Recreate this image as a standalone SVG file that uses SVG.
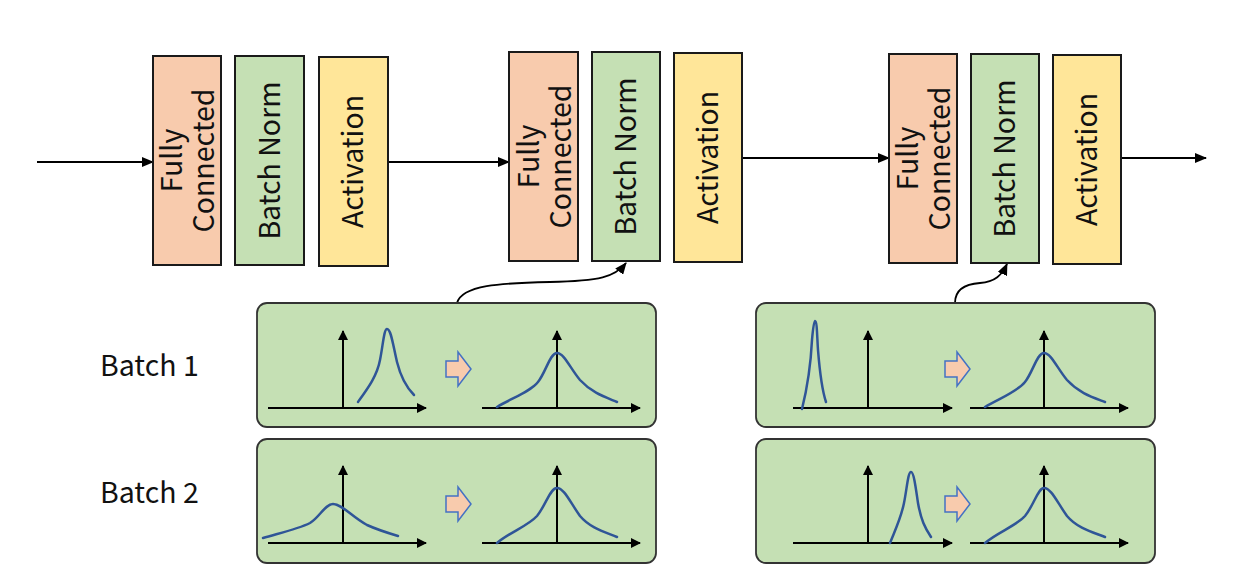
<svg xmlns="http://www.w3.org/2000/svg" width="1240" height="580" viewBox="0 0 1240 580">
<style>
.fc{fill:#f8cbad;stroke:#1a1a1a;stroke-width:2}
.bn{fill:#c5e0b4;stroke:#1a1a1a;stroke-width:2}
.ac{fill:#ffe699;stroke:#1a1a1a;stroke-width:2}
.lbl{font-family:"Noto Sans CJK JP","Noto Sans",sans-serif;font-size:28.5px;fill:#111;text-anchor:middle}
.bl{font-family:"Noto Sans CJK JP","Noto Sans",sans-serif;font-size:28.5px;fill:#111}
.panel{fill:#c5e0b4;stroke:#333;stroke-width:1.8}
.ax{stroke:#000;stroke-width:2;fill:none}
.cv{stroke:#2f5597;stroke-width:2.5;fill:none;stroke-linecap:round}
.pa{fill:#f8cbad;stroke:#4472c4;stroke-width:1.5}
.conn{stroke:#000;stroke-width:1.8;fill:none}
</style>
<defs>
<marker id="ah" markerUnits="userSpaceOnUse" markerWidth="12" markerHeight="10" refX="11" refY="5" orient="auto">
<path d="M0,0 L12,5 L0,10 Z" fill="#000"/>
</marker>
<marker id="axh" markerUnits="userSpaceOnUse" markerWidth="10" markerHeight="10" refX="9" refY="5" orient="auto">
<path d="M0,0 L10,5 L0,10 Z" fill="#000"/>
</marker>
</defs>

<g id="connectors">
<line class="conn" x1="37" y1="162" x2="153" y2="162" marker-end="url(#ah)"/>
<line class="conn" x1="388" y1="162" x2="509" y2="162" marker-end="url(#ah)"/>
<line class="conn" x1="742" y1="158" x2="889" y2="158" marker-end="url(#ah)"/>
<line class="conn" x1="1121" y1="158" x2="1206" y2="158" marker-end="url(#ah)"/>
<path class="conn" d="M457,303 C462,285 500,283 550,282 C600,281 615,277 626,263" marker-end="url(#ah)"/>
<path class="conn" d="M955,303 C955,290 965,284 980,283 C995,282 1002,275 1007,264" marker-end="url(#ah)"/>
</g>

<g id="block1">
<g id="fc1"><rect class="fc" x="153" y="56" width="68" height="209"/>
<g transform="translate(187,160.5) rotate(-90)"><text class="lbl" x="0" y="-5">Fully</text><text class="lbl" x="0" y="27">Connected</text></g></g>
<g id="bn1"><rect class="bn" x="235" y="56" width="69" height="209"/>
<text class="lbl" transform="translate(280,160.5) rotate(-90)">Batch Norm</text></g>
<g id="act1"><rect class="ac" x="319" y="57" width="69" height="209"/>
<text class="lbl" transform="translate(363,161.5) rotate(-90)">Activation</text></g>
</g>

<g id="block2">
<g id="fc2"><rect class="fc" x="509" y="52" width="69" height="209"/>
<g transform="translate(543.5,156.5) rotate(-90)"><text class="lbl" x="0" y="-5">Fully</text><text class="lbl" x="0" y="27">Connected</text></g></g>
<g id="bn2"><rect class="bn" x="592" y="52" width="68" height="209"/>
<text class="lbl" transform="translate(636,156.5) rotate(-90)">Batch Norm</text></g>
<g id="act2"><rect class="ac" x="674" y="53" width="68" height="209"/>
<text class="lbl" transform="translate(718,157.5) rotate(-90)">Activation</text></g>
</g>

<g id="block3">
<g id="fc3"><rect class="fc" x="889" y="54" width="68" height="209"/>
<g transform="translate(923,158.5) rotate(-90)"><text class="lbl" x="0" y="-5">Fully</text><text class="lbl" x="0" y="27">Connected</text></g></g>
<g id="bn3"><rect class="bn" x="971" y="54" width="68" height="209"/>
<text class="lbl" transform="translate(1015,158.5) rotate(-90)">Batch Norm</text></g>
<g id="act3"><rect class="ac" x="1053" y="55" width="68" height="209"/>
<text class="lbl" transform="translate(1097,159.5) rotate(-90)">Activation</text></g>
</g>

<text id="batch1" class="bl" x="100" y="376">Batch 1</text>
<text id="batch2" class="bl" x="100" y="503">Batch 2</text>

<g id="panel1">
<rect class="panel" x="257" y="303" width="399" height="124" rx="10"/>
<line class="ax" x1="268" y1="408" x2="426" y2="408" marker-end="url(#axh)"/>
<line class="ax" x1="343" y1="408" x2="343" y2="331" marker-end="url(#axh)"/>
<path class="cv" d="M358,402 C368,388 377,376 380,360 C383,345 384,329 387,329 C391,329 393,345 397,362 C401,378 406,387 414,395"/>
<path class="pa" d="M446,361 H458 V352 L471,369 L458,386 V377 H446 Z"/>
<line class="ax" x1="482" y1="408" x2="640" y2="408" marker-end="url(#axh)"/>
<line class="ax" x1="557" y1="408" x2="557" y2="331" marker-end="url(#axh)"/>
<path class="cv" d="M497,407 C512,398 530,392 538,382 C546,372 550,353 557,353 C564,353 570,368 580,380 C592,393 605,397 617,402"/>
</g>

<g id="panel2">
<rect class="panel" x="756" y="303" width="399" height="124" rx="10"/>
<line class="ax" x1="793" y1="408" x2="952" y2="408" marker-end="url(#axh)"/>
<line class="ax" x1="868" y1="408" x2="868" y2="331" marker-end="url(#axh)"/>
<path class="cv" d="M802,409 C808,385 811,360 812,340 C813,328 814,321 815,321 C817,321 817,335 818,350 C820,375 822,390 826,402"/>
<path class="pa" d="M945,361 H957 V352 L970,369 L957,386 V377 H945 Z"/>
<line class="ax" x1="970" y1="408" x2="1128" y2="408" marker-end="url(#axh)"/>
<line class="ax" x1="1044" y1="408" x2="1044" y2="331" marker-end="url(#axh)"/>
<path class="cv" d="M985,407 C1000,398 1017,392 1025,382 C1033,372 1037,353 1044,353 C1051,353 1057,368 1067,380 C1079,393 1092,397 1105,402"/>
</g>

<g id="panel3">
<rect class="panel" x="257" y="439" width="399" height="124" rx="10"/>
<line class="ax" x1="268" y1="543" x2="426" y2="543" marker-end="url(#axh)"/>
<line class="ax" x1="343" y1="543" x2="343" y2="466" marker-end="url(#axh)"/>
<path class="cv" d="M263,538 C280,533 298,529 310,523 C320,517 325,504 333,504 C342,504 352,517 367,525 C378,530 388,533 398,536"/>
<path class="pa" d="M446,496 H458 V487 L471,504 L458,521 V512 H446 Z"/>
<line class="ax" x1="482" y1="543" x2="640" y2="543" marker-end="url(#axh)"/>
<line class="ax" x1="557" y1="543" x2="557" y2="466" marker-end="url(#axh)"/>
<path class="cv" d="M497,543 C510,532 528,526 537,516 C546,505 550,488 557,488 C564,488 570,502 580,516 C590,528 605,532 617,537"/>
</g>

<g id="panel4">
<rect class="panel" x="756" y="439" width="399" height="124" rx="10"/>
<line class="ax" x1="793" y1="543" x2="952" y2="543" marker-end="url(#axh)"/>
<line class="ax" x1="868" y1="543" x2="868" y2="466" marker-end="url(#axh)"/>
<path class="cv" d="M890,543 C896,528 901,518 904,503 C907,488 908,472 911,472 C914,472 916,490 918,503 C921,520 925,528 931,537"/>
<path class="pa" d="M945,496 H957 V487 L970,504 L957,521 V512 H945 Z"/>
<line class="ax" x1="970" y1="543" x2="1128" y2="543" marker-end="url(#axh)"/>
<line class="ax" x1="1044" y1="543" x2="1044" y2="466" marker-end="url(#axh)"/>
<path class="cv" d="M985,543 C998,532 1016,526 1025,516 C1034,505 1038,488 1044,488 C1051,488 1057,502 1067,516 C1077,528 1092,532 1105,537"/>
</g>
</svg>
